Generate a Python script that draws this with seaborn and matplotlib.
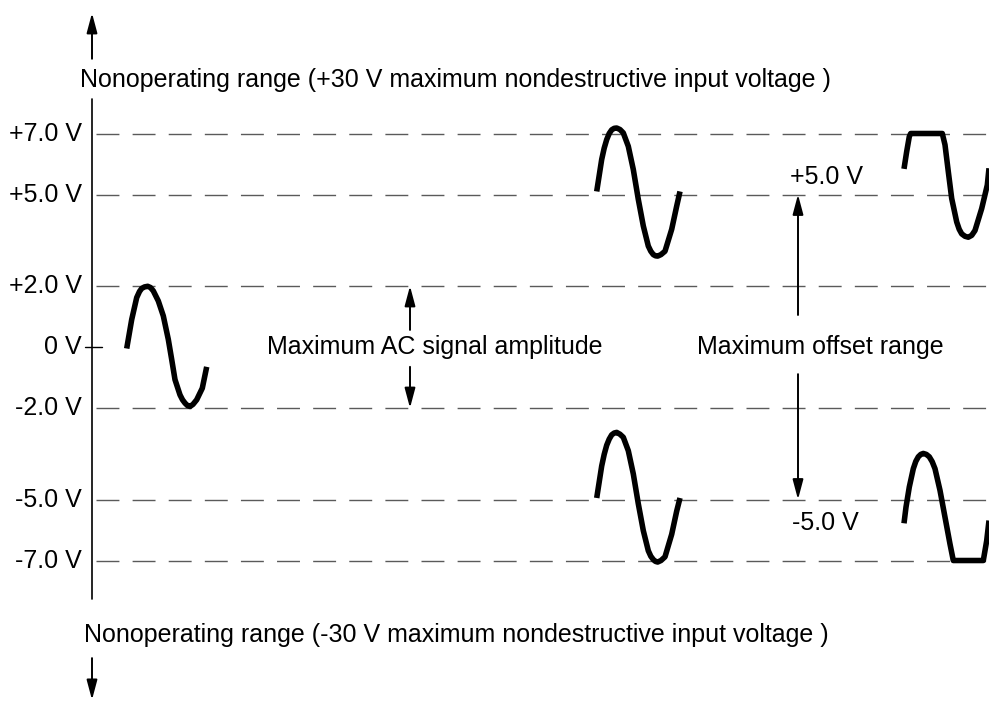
import numpy as np
import pandas as pd
import matplotlib
matplotlib.use("Agg")
import matplotlib.pyplot as plt
import seaborn as sns

# ------------------------------------------------------------
# data (x in px, level in volts)
# ------------------------------------------------------------
level_values = [7.0, 5.0, 2.0, -2.0, -5.0, -7.0]
level_labels = ["+7.0 V", "+5.0 V", "+2.0 V", "-2.0 V", "-5.0 V", "-7.0 V"]
zero_label = "0 V"

# centered AC signal (offset 0)
wave1_x = [126.7, 131.7, 136.7, 139.5, 141.7, 144.5, 147.7, 150.5, 153.3, 158.3,
           163.3, 168.3, 171.7, 175.0, 180.0, 182.5, 185.0, 187.5, 190.0, 193.0,
           196.7, 202.3, 206.7]
wave1_v = [-0.05, 0.90, 1.62, 1.82, 1.92, 1.97, 1.99, 1.95, 1.84, 1.51,
           1.02, 0.25, -0.41, -1.07, -1.57, -1.73, -1.84, -1.92, -1.95, -1.88,
           -1.73, -1.35, -0.65]

# signal at +5 V offset
wave2_x = [596.7, 601.7, 604.2, 606.7, 609.2, 611.7, 614.2, 616.7, 620.0, 623.3,
           628.3, 633.3, 638.3, 643.3, 648.3, 650.8, 653.3, 655.5, 657.7, 661.0,
           665.0, 671.7, 676.7, 680.0]
wave2_v = [5.10, 6.15, 6.52, 6.80, 7.00, 7.12, 7.17, 7.18, 7.13, 7.02,
           6.58, 5.82, 4.84, 3.97, 3.31, 3.14, 3.03, 2.99, 2.98, 3.03,
           3.14, 3.86, 4.62, 5.10]

# signal at -5 V offset
wave3_x = [596.7, 601.7, 604.2, 606.7, 609.2, 611.7, 614.2, 616.7, 620.0, 623.3,
           628.3, 633.3, 638.3, 643.3, 648.3, 650.8, 653.3, 655.5, 657.7, 661.0,
           665.0, 671.7, 676.7, 680.0]
wave3_v = [-4.95, -3.90, -3.52, -3.22, -3.02, -2.88, -2.82, -2.80, -2.86, -2.96,
           -3.40, -4.16, -5.14, -6.02, -6.68, -6.86, -6.97, -7.03, -7.05, -7.00,
           -6.88, -6.14, -5.38, -4.95]

# signal beyond +5 V offset, clipped at +7 V
wave4_x = [904.0, 906.7, 909.3, 910.7, 942.3, 945.0, 948.3, 951.7, 956.7, 959.2,
           961.7, 965.0, 968.3, 971.7, 975.0, 981.7, 987.3, 989.0]
wave4_v = [5.84, 6.41, 6.90, 7.0, 7.0, 6.63, 5.75, 4.87, 4.10, 3.86,
           3.71, 3.63, 3.60, 3.66, 3.82, 4.54, 5.31, 5.86]

# signal beyond -5 V offset, clipped at -7 V
wave5_x = [904.0, 906.0, 909.3, 913.3, 915.8, 918.3, 920.8, 923.3, 926.3, 929.3,
           932.2, 935.0, 940.0, 945.0, 950.0, 953.3, 983.3, 986.7, 989.0]
wave5_v = [-5.78, -5.25, -4.59, -3.99, -3.75, -3.60, -3.52, -3.49, -3.52, -3.60,
           -3.76, -3.99, -4.70, -5.58, -6.46, -7.0, -7.0, -6.35, -5.69]

waves = pd.concat([
    pd.DataFrame({"x": wave1_x, "v": wave1_v, "wave": "ac"}),
    pd.DataFrame({"x": wave2_x, "v": wave2_v, "wave": "pos"}),
    pd.DataFrame({"x": wave3_x, "v": wave3_v, "wave": "neg"}),
    pd.DataFrame({"x": wave4_x, "v": wave4_v, "wave": "pos_clip"}),
    pd.DataFrame({"x": wave5_x, "v": wave5_v, "wave": "neg_clip"}),
], ignore_index=True)

top_note = "Nonoperating range (+30 V maximum nondestructive input voltage )"
bottom_note = "Nonoperating range (-30 V maximum nondestructive input voltage )"
ac_label = "Maximum AC signal amplitude"
offset_label = "Maximum offset range"
offset_top = "+5.0 V"
offset_bottom = "-5.0 V"

# ------------------------------------------------------------
# figure
# ------------------------------------------------------------
sns.set_theme(style="white")
plt.rcParams["font.family"] = ["Liberation Sans", "DejaVu Sans"]
plt.rcParams["text.color"] = "black"

fig = plt.figure(figsize=(9.89, 7.02), dpi=100)
ax = fig.add_axes([0, 0, 1, 1])

fs = 18
x_axis = 92

# dashed reference levels
for v in level_values:
    ax.plot([96, 989], [v, v], color="#5a5a5a", lw=1.0,
            linestyle=(0, (16.5, 9.5)), zorder=1)

# level labels
for v, lab in zip(level_values, level_labels):
    ax.text(82, v, lab, ha="right", va="center", fontsize=fs)
ax.text(82, 0, zero_label, ha="right", va="center", fontsize=fs)
ax.plot([85, 102], [0, 0], color="black", lw=1.0)

# vertical axis
ax.plot([x_axis, x_axis], [8.13, -8.26], color="black", lw=1.2)

arrow_kw = dict(arrowstyle="-|>,head_length=0.6,head_width=0.16",
                color="black", lw=1.4, mutation_scale=20,
                shrinkA=0, shrinkB=0)

# nonoperating range arrows
ax.annotate("", xy=(x_axis, 10.95), xytext=(x_axis, 9.45), arrowprops=arrow_kw)
ax.annotate("", xy=(x_axis, -11.57), xytext=(x_axis, -10.2), arrowprops=arrow_kw)
ax.text(80, 8.75, top_note, ha="left", va="center", fontsize=fs)
ax.text(84, -9.44, bottom_note, ha="left", va="center", fontsize=fs)

# waveforms
sns.lineplot(data=waves, x="x", y="v", units="wave", estimator=None, sort=False,
             color="black", lw=4.0, ax=ax, legend=False, zorder=3,
             solid_capstyle="butt", solid_joinstyle="round")

# AC amplitude arrows
ax.annotate("", xy=(410, 2.0), xytext=(410, 0.56), arrowprops=arrow_kw)
ax.annotate("", xy=(410, -2.0), xytext=(410, -0.65), arrowprops=arrow_kw)
ax.text(435, 0, ac_label, ha="center", va="center", fontsize=fs)

# offset range arrows
ax.annotate("", xy=(798, 5.0), xytext=(798, 1.05), arrowprops=arrow_kw)
ax.annotate("", xy=(798, -5.0), xytext=(798, -0.89), arrowprops=arrow_kw)
ax.text(820, 0, offset_label, ha="center", va="center", fontsize=fs)
ax.text(790, 5.57, offset_top, ha="left", va="center", fontsize=fs)
ax.text(792, -5.77, offset_bottom, ha="left", va="center", fontsize=fs)

ax.set_xlim(0, 989)
ax.set_ylim(-11.639, 11.377)
ax.axis("off")

fig.savefig("out.png", dpi=100, facecolor="white")
